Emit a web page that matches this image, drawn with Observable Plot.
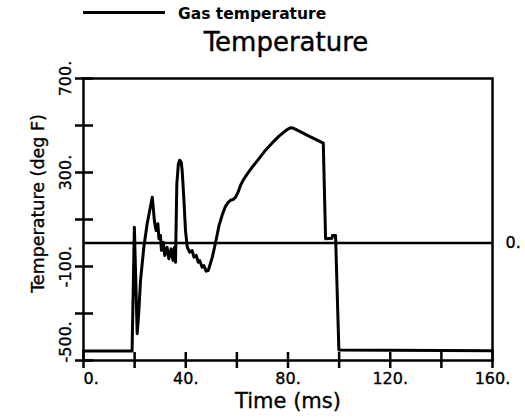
<!DOCTYPE html>
<html>
<head>
<meta charset="utf-8">
<script src="https://cdn.jsdelivr.net/npm/d3@7"></script>
<script src="https://cdn.jsdelivr.net/npm/@observablehq/plot@0.6"></script>
<style>
html, body { margin: 0; padding: 0; background: #fff; }
#wrap { position: relative; width: 525px; height: 420px; font-family: "DejaVu Sans", sans-serif; color: #000; }
#wrap svg { position: absolute; left: 0; top: 0; overflow: visible; }
#wrap svg text { stroke: #000; stroke-width: 0.35px; }
.legend-line { position: absolute; left: 83px; top: 11px; width: 82px; height: 0; border-top: 3px solid #000; }
.legend-text { position: absolute; left: 178px; top: 7px; font-size: 15.5px; font-weight: bold; line-height: 15.5px; white-space: nowrap; }
.title { position: absolute; left: 0; width: 572px; top: 29px; text-align: center; font-size: 26px; line-height: 26px; white-space: nowrap; -webkit-text-stroke: 0.4px #000; }
</style>
</head>
<body>
<div id="wrap">
  <div class="legend-line"></div>
  <div class="legend-text">Gas temperature</div>
  <div class="title">Temperature</div>
</div>
<script>
// Data
const time = [0, 19.0, 19.9, 21.0, 21.6, 22.3, 23.6, 24.9, 26.9, 27.8, 28.4, 29.1, 29.5, 30.1, 30.5, 31.2, 31.8, 32.7, 33.4, 34.3, 35.0, 35.6, 36.0, 36.5, 37.1, 37.6, 38.2, 38.6, 39.3, 39.9, 40.6, 41.5, 42.5, 43.2, 44.1, 44.9, 45.5, 46.4, 47.1, 48.0, 48.8, 50.4, 51.7, 53.0, 54.3, 55.5, 56.5, 57.5, 58.5, 59.5, 60.6, 61.4, 62.5, 64.0, 66.0, 68.5, 71.2, 74.0, 76.5, 78.4, 80.0, 81.0, 82.2, 84.0, 88.0, 91.0, 93.8, 94.7, 97.2, 97.4, 98.6, 99.9, 160];
const gasTemp = [-460, -460, 67, -386, -300, -160, -18, 82, 195, 88, 53, 82, 18, 32, -32, 3, -53, -18, -67, -25, -74, -18, -82, 250, 335, 352, 345, 308, 181, 53, -18, -39, -32, -60, -53, -82, -75, -103, -96, -120, -117, -60, 3, 74, 120, 155, 172, 182, 185, 195, 220, 245, 268, 293, 323, 357, 395, 428, 455, 472, 485, 490, 488, 478, 456, 440, 425, 18, 20, 32, 32, -455, -458];

const xTickValues = [0, 40, 80, 120, 160];
const xMinorTicks = [20, 60, 100, 140];
const yTickValues = [-500, -100, 300, 700];
const yMinorTicks = [-300, 100, 500];
const refLine = [0];
const xLabel = "Time (ms)";
const yLabel = "Temperature (deg F)";

const data = time.map((t, i) => ({t, v: gasTemp[i]}));
const fmt = d => d + ".";

const W = 525, H = 420, mT = 78, mB = 60, mL = 83, mR = 33;
const fw = W - mL - mR, fh = H - mT - mB;

const chart = Plot.plot({
  width: W, height: H,
  marginTop: mT, marginBottom: mB, marginLeft: mL, marginRight: mR,
  style: {fontFamily: '"DejaVu Sans", sans-serif', fontSize: "16px", color: "#000", background: "transparent"},
  x: {domain: [0, 160]},
  y: {domain: [-500, 700]},
  marks: [
    Plot.ruleY(refLine, {strokeWidth: 2.5}),
    Plot.line(data, {x: "t", y: "v", strokeWidth: 3, strokeLinejoin: "round"}),
    Plot.frame({strokeWidth: 2.5}),
    Plot.tickX(xTickValues.concat(xMinorTicks), {x: d => d, insetTop: fh - 8, insetBottom: -8, strokeWidth: 2.5}),
    Plot.tickY(yTickValues.concat(yMinorTicks), {y: d => d, insetLeft: -8, insetRight: fw - 10, strokeWidth: 2.5}),
    Plot.axisX(xTickValues.slice(1), {tickSize: 0, tickPadding: 12, tickFormat: fmt, fontSize: 16, label: null}),
    Plot.axisX(xTickValues.slice(0, 1), {tickSize: 0, tickPadding: 12, tickFormat: fmt, textAnchor: "start", fontSize: 16, label: null}),
    Plot.axisY(yTickValues.slice(1), {tickSize: 0, tickPadding: 13, tickFormat: fmt, rotate: -90, textAnchor: "middle", lineAnchor: "bottom", fontSize: 16, label: null}),
    Plot.axisY(yTickValues.slice(0, 1), {tickSize: 0, tickPadding: 13, tickFormat: fmt, rotate: -90, textAnchor: "start", lineAnchor: "bottom", dy: 2, fontSize: 16, label: null}),
    Plot.axisY(refLine, {anchor: "right", tickSize: 0, tickPadding: 13, tickFormat: fmt, fontSize: 16, label: null}),
    Plot.text([xLabel], {text: d => d, frameAnchor: "bottom", lineAnchor: "bottom", dy: 47, fontSize: 21}),
    Plot.text([yLabel], {text: d => d, frameAnchor: "left", rotate: -90, textAnchor: "middle", lineAnchor: "bottom", dx: -40, dy: -16, fontSize: 17.5})
  ]
});
document.getElementById("wrap").appendChild(chart);
</script>
</body>
</html>
